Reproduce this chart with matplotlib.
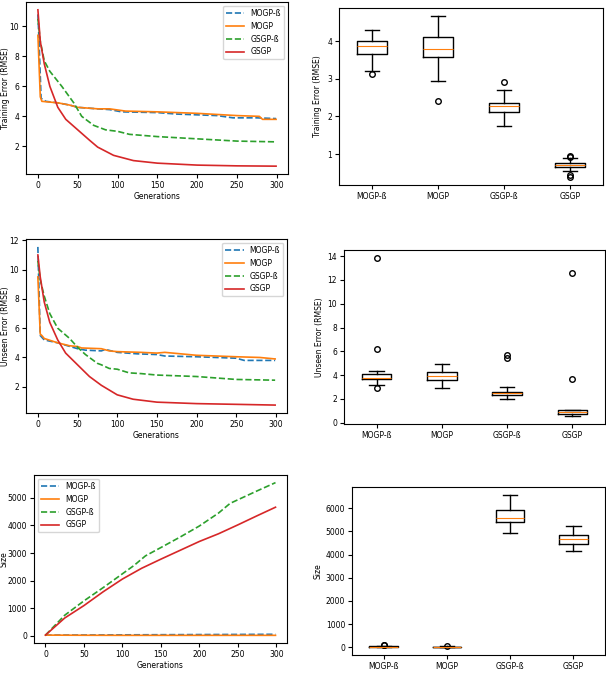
import matplotlib.pyplot as plt

plt.rcParams['font.size'] = 5.5

methods = ['MOGP-ß', 'MOGP', 'GSGP-ß', 'GSGP']
colors = ['#1f77b4', '#ff7f0e', '#2ca02c', '#d62728']
styles = ['--', '-', '--', '-']

# training error curves (generation, value)
train_gen = {
    'MOGP-ß': [0, 1, 4, 10, 25, 40, 50, 75, 90, 105, 150, 175, 200, 225, 245, 275, 299],
    'MOGP': [0, 3, 5, 25, 40, 50, 75, 90, 110, 150, 200, 250, 278, 282, 299],
    'GSGP-ß': [0, 3, 8, 15, 30, 45, 55, 70, 85, 100, 115, 150, 200, 250, 299],
    'GSGP': [0, 3, 8, 15, 25, 35, 50, 65, 75, 95, 120, 150, 200, 250, 299],
}
train_val = {
    'MOGP-ß': [10.8, 9.6, 5.2, 5.0, 4.9, 4.75, 4.6, 4.5, 4.45, 4.3, 4.25, 4.15, 4.1, 4.05, 3.9, 3.9, 3.85],
    'MOGP': [9.4, 5.3, 5.0, 4.9, 4.75, 4.6, 4.5, 4.5, 4.35, 4.3, 4.2, 4.05, 4.0, 3.8, 3.8],
    'GSGP-ß': [10.5, 9.0, 7.7, 7.0, 6.0, 4.9, 4.0, 3.4, 3.1, 3.0, 2.8, 2.65, 2.5, 2.35, 2.3],
    'GSGP': [11.1, 9.0, 7.5, 6.0, 4.6, 3.8, 3.1, 2.4, 1.95, 1.4, 1.05, 0.88, 0.75, 0.7, 0.68],
}

# unseen error curves
unseen_gen = {
    'MOGP-ß': [0, 1, 3, 8, 25, 50, 60, 80, 85, 100, 125, 150, 160, 200, 250, 260, 299],
    'MOGP': [0, 3, 5, 8, 25, 40, 50, 55, 80, 90, 100, 130, 150, 160, 200, 250, 280, 299],
    'GSGP-ß': [0, 3, 8, 15, 25, 40, 50, 60, 75, 80, 90, 100, 115, 130, 150, 200, 250, 299],
    'GSGP': [0, 3, 8, 15, 25, 35, 50, 65, 80, 100, 120, 150, 200, 250, 299],
}
unseen_val = {
    'MOGP-ß': [11.55, 9.5, 5.5, 5.2, 5.0, 4.6, 4.5, 4.45, 4.55, 4.35, 4.25, 4.2, 4.1, 4.05, 3.95, 3.8, 3.8],
    'MOGP': [9.5, 5.6, 5.5, 5.3, 5.0, 4.8, 4.75, 4.65, 4.6, 4.45, 4.4, 4.35, 4.3, 4.35, 4.15, 4.05, 4.0, 3.9],
    'GSGP-ß': [10.6, 9.3, 8.2, 7.0, 6.0, 5.3, 4.7, 4.2, 3.6, 3.5, 3.25, 3.2, 2.95, 2.9, 2.8, 2.7, 2.5, 2.45],
    'GSGP': [11.0, 9.5, 7.8, 6.4, 5.2, 4.3, 3.5, 2.7, 2.1, 1.45, 1.15, 0.95, 0.85, 0.8, 0.75],
}

# size curves
size_gen = {
    'MOGP-ß': [0, 50, 100, 150, 200, 250, 299],
    'MOGP': [0, 50, 100, 150, 200, 250, 299],
    'GSGP-ß': [0, 25, 50, 75, 100, 115, 130, 150, 175, 200, 225, 240, 275, 299],
    'GSGP': [0, 25, 50, 75, 100, 125, 150, 175, 200, 225, 250, 275, 299],
}
size_val = {
    'MOGP-ß': [30, 35, 40, 45, 50, 55, 60],
    'MOGP': [30, 25, 22, 22, 22, 22, 22],
    'GSGP-ß': [30, 750, 1270, 1750, 2250, 2550, 2900, 3200, 3580, 3980, 4450, 4800, 5250, 5550],
    'GSGP': [30, 650, 1100, 1600, 2060, 2450, 2780, 3100, 3420, 3700, 4020, 4350, 4660],
}

# box plot statistics: whislo, q1, med, q3, whishi, fliers
train_box = {
    'MOGP-ß': (3.21, 3.67, 3.86, 4.0, 4.3, [3.12]),
    'MOGP': (2.94, 3.57, 3.8, 4.11, 4.67, [2.4]),
    'GSGP-ß': (1.75, 2.12, 2.27, 2.36, 2.7, [2.92]),
    'GSGP': (0.54, 0.65, 0.7, 0.76, 0.89, [0.94, 0.92, 0.44, 0.39]),
}
unseen_box = {
    'MOGP-ß': (3.15, 3.68, 3.74, 4.1, 4.32, [13.85, 6.2, 2.95]),
    'MOGP': (2.93, 3.62, 3.92, 4.27, 4.97, []),
    'GSGP-ß': (1.95, 2.29, 2.46, 2.6, 3.0, [5.7, 5.45]),
    'GSGP': (0.55, 0.76, 0.88, 1.03, 1.1, [12.55, 3.7]),
}
size_box = {
    'MOGP-ß': (5, 25, 40, 50, 70, [90, 110]),
    'MOGP': (2, 12, 20, 30, 45, [50]),
    'GSGP-ß': (4920, 5395, 5580, 5930, 6575, []),
    'GSGP': (4170, 4450, 4660, 4820, 5220, []),
}


def lines(ax, gens, vals, ylabel, legloc, labelx):
    for m, c, s in zip(methods, colors, styles):
        ax.plot(gens[m], vals[m], linestyle=s, color=c, lw=1.2, label=m)
    ax.set_xlabel('Generations', labelpad=1.5)
    ax.set_ylabel(ylabel)
    ax.yaxis.set_label_coords(labelx, 0.5)
    ax.set_xticks([0, 50, 100, 150, 200, 250, 300])
    ax.legend(loc=legloc, fontsize=5.5, handlelength=2.4)
    ax.tick_params(length=3, pad=2)


def boxes(ax, data, ylabel, labelx):
    stats = []
    for m in methods:
        lo, q1, med, q3, hi, fl = data[m]
        stats.append(dict(label=m, whislo=lo, q1=q1, med=med, q3=q3, whishi=hi, fliers=fl))
    ax.bxp(stats, showfliers=True,
           medianprops=dict(color='#ff7f0e', lw=0.8),
           flierprops=dict(marker='o', markerfacecolor='none', markersize=4))
    ax.set_ylabel(ylabel)
    ax.yaxis.set_label_coords(labelx, 0.5)
    ax.tick_params(length=3, pad=2)


fig = plt.figure(figsize=(6.06, 6.89), dpi=100)

ax1 = fig.add_axes([0.0429, 0.7475, 0.4323, 0.2496])
lines(ax1, train_gen, train_val, 'Training Error (RMSE)', 'upper right', -0.061)
ax1.set_yticks([2, 4, 6, 8, 10])

ax2 = fig.add_axes([0.5594, 0.7315, 0.4356, 0.2569])
boxes(ax2, train_box, 'Training Error (RMSE)', -0.064)

ax3 = fig.add_axes([0.0429, 0.4006, 0.4307, 0.2525])
lines(ax3, unseen_gen, unseen_val, 'Unseen Error (RMSE)', 'upper right', -0.061)

ax4 = fig.add_axes([0.5677, 0.3846, 0.4307, 0.2525])
boxes(ax4, unseen_box, 'Unseen Error (RMSE)', -0.077)

ax5 = fig.add_axes([0.0561, 0.0668, 0.4175, 0.2438])
lines(ax5, size_gen, size_val, 'Size', 'upper left', -0.1)

ax6 = fig.add_axes([0.5809, 0.0493, 0.4175, 0.2438])
boxes(ax6, size_box, 'Size', -0.115)

fig.savefig('out.png', dpi=100)
